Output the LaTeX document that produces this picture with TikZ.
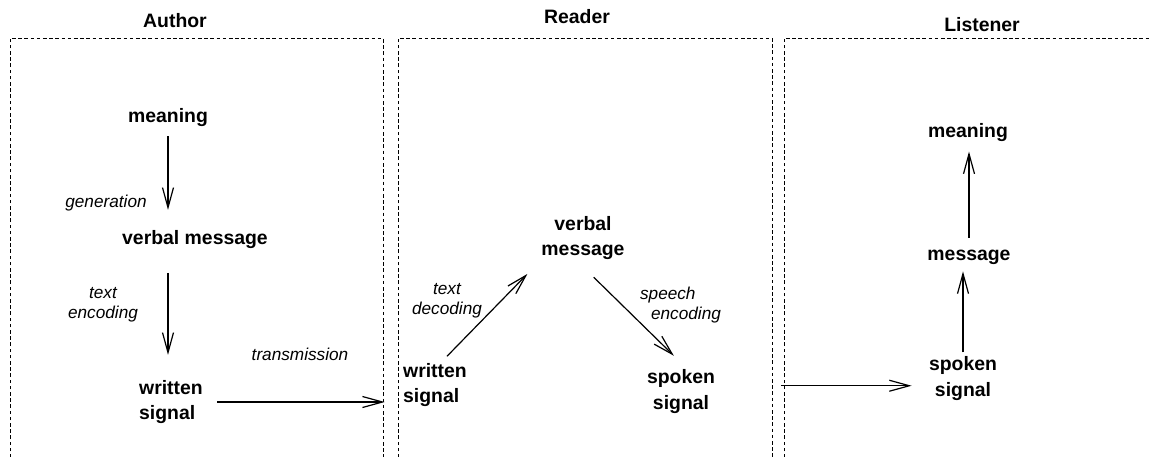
\documentclass[tikz,border=0pt]{standalone}
\usepackage{fontspec}
\setmainfont{Liberation Sans}
\usetikzlibrary{arrows.meta}

\begin{document}
\begin{tikzpicture}[
    x=5pt, y=-5pt,
    term/.style={font=\fontsize{9.7}{12.6}\selectfont\bfseries, align=center},
    proc/.style={font=\fontsize{8.6}{9.8}\selectfont\itshape, align=center},
    lane/.style={draw, line width=0.5pt, dash pattern=on 1.8pt off 1.3pt},
    arr/.style={-{Straight Barb[length=10pt, width=5.5pt]}, semithick}
]
\useasboundingbox (0,0) rectangle (115,45.6);

% Lanes (open at the bottom)
\draw[lane] (1.0,47) -- (1.0,3.8) -- (38.3,3.8) -- (38.3,47);
\draw[lane] (39.8,47) -- (39.8,3.8) -- (77.2,3.8) -- (77.2,47);
\draw[lane] (78.4,47) -- (78.4,3.8) -- (116,3.8);

\node[term] (tauthor) at (17.5,2.1) {Author};
\node[term] (treader) at (57.7,1.7) {Reader};
\node[term] (tlistener) at (98.2,2.5) {Listener};

% Author
\node[term] (ameaning) at (16.8,11.8) {meaning};
\node[term] (averbal) at (19.5,24.0) {verbal message};
\node[term, align=left] (awritten) at (17.1,40.2) {written\\signal};
\node[proc] (agen) at (10.6,20.3) {generation};
\node[proc] (aenc) at (10.3,30.5) {text\\encoding};
\node[proc] (atrans) at (30.0,35.4) {transmission};

% Reader
\node[term, align=left] (rwritten) at (43.5,38.5) {written\\signal};
\node[term] (rverbal) at (58.3,23.8) {verbal\\message};
\node[term] (rspoken) at (68.1,39.15) {spoken\\signal};
\node[proc] (rdec) at (44.7,30.1) {text\\decoding};
\node[proc, align=left] (rspeech) at (68.05,30.5) {speech\\\hspace*{5.5pt}encoding};

% Listener
\node[term] (lmeaning) at (96.8,13.3) {meaning};
\node[term] (lmessage) at (96.9,25.7) {message};
\node[term] (lspoken) at (96.3,37.85) {spoken\\signal};

% Connectors
\draw[arr, shorten <=1pt, shorten >=7pt] (ameaning.south) -- (ameaning.south |- averbal.north);
\draw[arr, shorten <=8.3pt, shorten >=9.2pt] (ameaning.south |- averbal.south) -- (ameaning.south |- awritten.north);
\draw[arr, shorten <=3.7pt, shorten >=5.7pt] (awritten.east) -- (awritten.east -| rwritten.west);

\draw[arr, shorten >=5pt] ([xshift=6pt]rwritten.north) -- (rverbal.south west);
\draw[arr, shorten <=7.5pt, shorten >=5pt] (rverbal.south) -- (rspoken.north);
\draw[arr, shorten <=29.7pt, shorten >=5.2pt] (rspoken.east |- lspoken.190) -- (lspoken.190);

\draw[arr, shorten <=-1.3pt] (lspoken.north) -- (lspoken.north |- lmessage.south);
\draw[arr, shorten <=2.5pt, shorten >=1.2pt] (lmessage.north) -- (lmessage.north |- lmeaning.south);

\end{tikzpicture}
\end{document}
